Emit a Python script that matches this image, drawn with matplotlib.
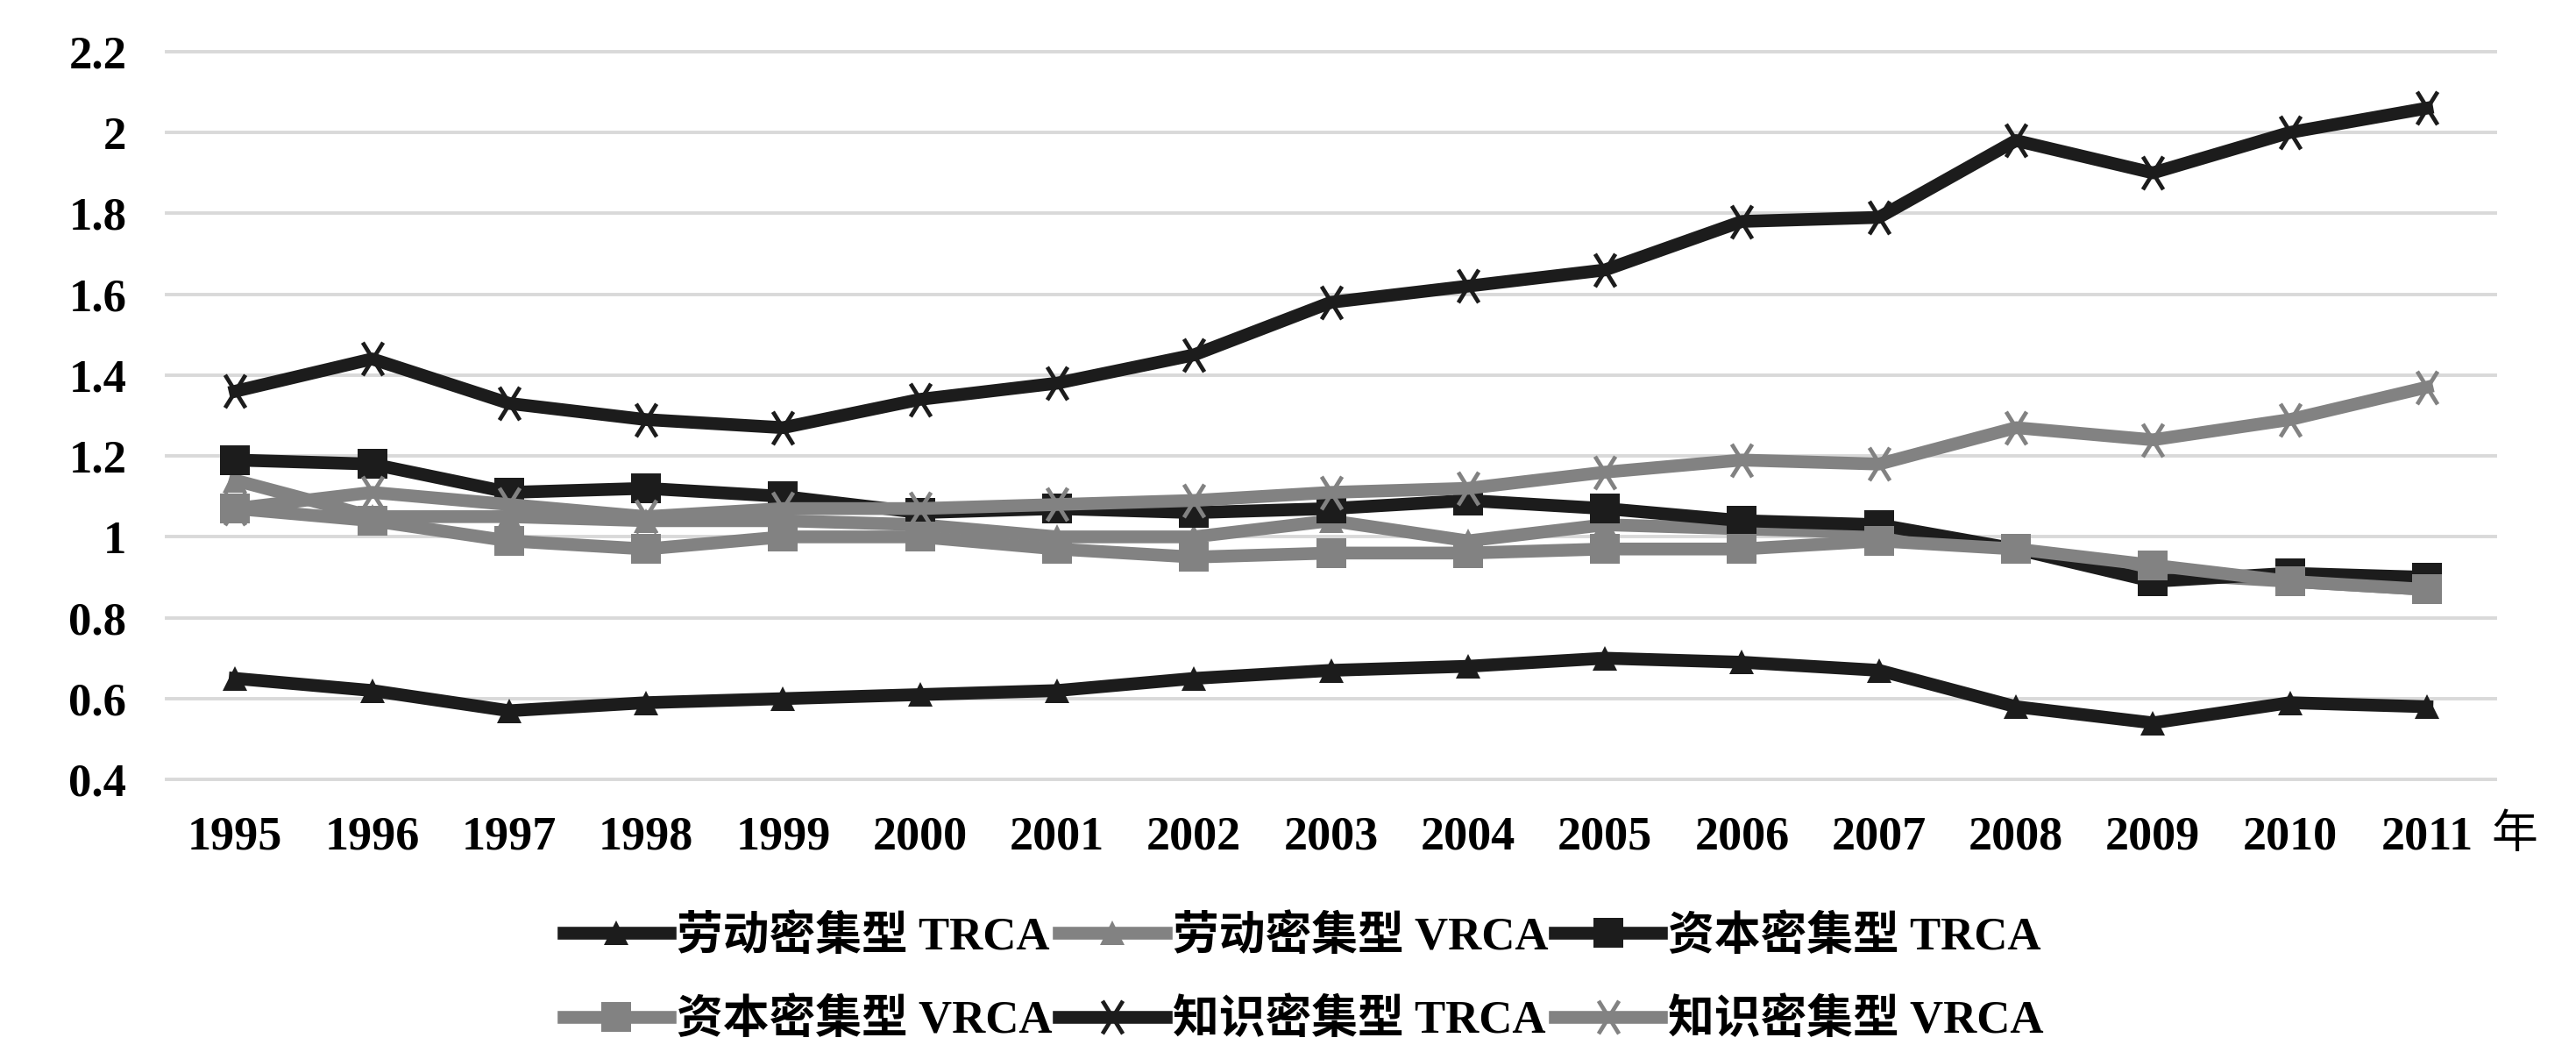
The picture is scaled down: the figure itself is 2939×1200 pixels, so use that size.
import matplotlib
matplotlib.use("Agg")
import matplotlib.pyplot as plt
from matplotlib.path import Path

plt.rcParams['font.family'] = ['Liberation Serif', 'Noto Sans CJK SC']

# data
years = ['1995', '1996', '1997', '1998', '1999', '2000', '2001', '2002', '2003',
         '2004', '2005', '2006', '2007', '2008', '2009', '2010', '2011']
labor_trca = [0.65, 0.62, 0.57, 0.59, 0.60, 0.61, 0.62, 0.65, 0.67,
              0.68, 0.70, 0.69, 0.67, 0.58, 0.54, 0.59, 0.58]
labor_vrca = [1.14, 1.05, 1.05, 1.04, 1.04, 1.03, 1.00, 1.00, 1.04,
              0.99, 1.03, 1.02, 1.01, 0.97, 0.91, 0.89, 0.87]
capital_trca = [1.19, 1.18, 1.11, 1.12, 1.10, 1.06, 1.07, 1.06, 1.07,
                1.09, 1.07, 1.04, 1.03, 0.97, 0.89, 0.91, 0.90]
capital_vrca = [1.07, 1.04, 0.99, 0.97, 1.00, 1.00, 0.97, 0.95, 0.96,
                0.96, 0.97, 0.97, 0.99, 0.97, 0.93, 0.89, 0.87]
knowledge_trca = [1.36, 1.44, 1.33, 1.29, 1.27, 1.34, 1.38, 1.45, 1.58,
                  1.62, 1.66, 1.78, 1.79, 1.98, 1.90, 2.00, 2.06]
knowledge_vrca = [1.07, 1.11, 1.08, 1.05, 1.07, 1.07, 1.08, 1.09, 1.11,
                  1.12, 1.16, 1.19, 1.18, 1.27, 1.24, 1.29, 1.37]
labels = ['劳动密集型 TRCA', '劳动密集型 VRCA', '资本密集型 TRCA',
          '资本密集型 VRCA', '知识密集型 TRCA', '知识密集型 VRCA']
y_ticks = [0.4, 0.6, 0.8, 1.0, 1.2, 1.4, 1.6, 1.8, 2.0, 2.2]
y_tick_labels = ['0.4', '0.6', '0.8', '1', '1.2', '1.4', '1.6', '1.8', '2', '2.2']

black = '#1c1c1c'
grey = '#828282'

# tall x marker like the office chart
tall_x = Path([(-0.62, -1), (0.62, 1), (-0.62, 1), (0.62, -1)],
              [Path.MOVETO, Path.LINETO, Path.MOVETO, Path.LINETO])

series = [
    (labor_trca, black, '^', 20),
    (labor_vrca, grey, '^', 20),
    (capital_trca, black, 's', 25),
    (capital_vrca, grey, 's', 25),
    (knowledge_trca, black, tall_x, 27),
    (knowledge_vrca, grey, tall_x, 27),
]

fig = plt.figure(figsize=(29.39, 12), dpi=100)
ax = fig.add_axes([0.0647, 0.259, 0.904, 0.692])

x = list(range(len(years)))
handles = []
for (vals, col, mk, ms), lab in zip(series, labels):
    if mk is tall_x:
        h, = ax.plot(x, vals, color=col, lw=10.5, marker=mk, markersize=ms,
                     markeredgewidth=3.4, markeredgecolor=col, fillstyle='none',
                     solid_joinstyle='round', label=lab)
    else:
        h, = ax.plot(x, vals, color=col, lw=10.5, marker=mk, markersize=ms,
                     markeredgewidth=0, solid_joinstyle='round', label=lab)
    handles.append(h)

ax.set_xlim(-0.5, len(years) - 0.5)
ax.set_ylim(0.4, 2.2)
ax.set_xticks(x)
ax.set_xticklabels(years, fontsize=39, fontweight='bold')
ax.set_yticks(y_ticks)
ax.set_yticklabels(y_tick_labels, fontsize=38, fontweight='bold')
ax.tick_params(axis='both', length=0)
ax.tick_params(axis='x', pad=30)
ax.tick_params(axis='y', pad=33)
for s in ax.spines.values():
    s.set_visible(False)
ax.grid(axis='y', color='#d9d9d9', lw=2.8)
ax.set_axisbelow(True)
for gl in ax.get_ygridlines():
    gl.set_clip_on(False)

fig.text(0.976, 0.207, '年', fontsize=38, ha='center', va='center',
         family=['Noto Sans CJK SC'])

# legend fills column-wise, so reorder to get rows like the reference
order = [0, 3, 1, 4, 2, 5]
leg = fig.legend([handles[i] for i in order], [labels[i] for i in order],
                 ncol=3, loc='center', bbox_to_anchor=(0.506, 0.07),
                 frameon=False, handlelength=2.3, handletextpad=0.15,
                 columnspacing=0.15, labelspacing=0.85,
                 prop={'size': 38, 'weight': 'bold'})

fig.savefig('out.png', dpi=100)
